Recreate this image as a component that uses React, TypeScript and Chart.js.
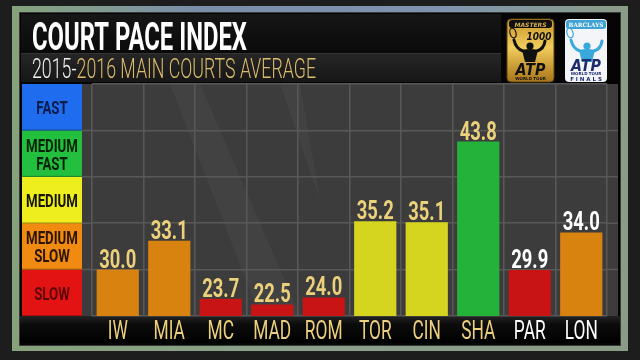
import React, { useEffect, useRef } from "react";
import { Chart, registerables, LinearScale } from "chart.js";

const categories = ["IW", "MIA", "MC", "MAD", "ROM", "TOR", "CIN", "SHA", "PAR", "LON"];
const paceValues = [30.0, 33.1, 23.7, 22.5, 24.0, 35.2, 35.1, 43.8, 29.9, 34.0];
const barColors = ["#d8820f", "#d8820f", "#c81414", "#c81414", "#c81414", "#d5d41e", "#d5d41e", "#25b23a", "#c81414", "#d8820f"];
const labelColors = ["#ecd07c", "#ecd07c", "#ecd07c", "#ecd07c", "#ecd07c", "#ecd07c", "#ecd07c", "#ecd07c", "#ffffff", "#ffffff"];
const bandBreaks = [20, 30, 35, 40, 45, 50];
const bandNames = [["SLOW"], ["MEDIUM", "SLOW"], ["MEDIUM"], ["MEDIUM", "FAST"], ["FAST"]];
const bandColors = ["#e31313", "#f08a10", "#eeee1e", "#22c03e", "#1f6cef"];
const bandTextColors = ["#5c0505", "#2a1400", "#151500", "#062206", "#0a1c4a"];
const titleText = "COURT PACE INDEX";
const subtitleYears = "2015-";
const subtitleRest = "2016 MAIN COURTS AVERAGE";

class PaceScale extends LinearScale {
  static id = "pace";
  static defaults = LinearScale.defaults;
  fracOf(v: number) {
    const b = bandBreaks;
    const n = b.length - 1;
    if (v <= b[0]) return 0;
    if (v >= b[n]) return 1;
    for (let i = 0; i < n; i++) {
      if (v <= b[i + 1]) return (i + (v - b[i]) / (b[i + 1] - b[i])) / n;
    }
    return 1;
  }
  getPixelForValue(v: any) {
    if (v === null || v === undefined || isNaN(v)) return NaN;
    return this.getPixelForDecimal(this.fracOf(+v));
  }
  getValueForPixel(p: number) {
    const b = bandBreaks;
    const n = b.length - 1;
    const d = Math.max(0, Math.min(1, this.getDecimalForPixel(p))) * n;
    const i = Math.min(Math.floor(d), n - 1);
    return b[i] + (d - i) * (b[i + 1] - b[i]);
  }
}

Chart.register(...registerables, PaceScale);

function fitText(ctx: CanvasRenderingContext2D, text: string, x: number, y: number, k: number, align: "left" | "center") {
  const w = ctx.measureText(text).width * k;
  ctx.save();
  ctx.translate(align === "center" ? x - w / 2 : x, y);
  ctx.scale(k, 1);
  ctx.textAlign = "left";
  ctx.fillText(text, 0, 0);
  ctx.restore();
  return w;
}

function rrect(ctx: CanvasRenderingContext2D, x: number, y: number, w: number, h: number, r: number) {
  ctx.beginPath();
  ctx.moveTo(x + r, y);
  ctx.lineTo(x + w - r, y);
  ctx.quadraticCurveTo(x + w, y, x + w, y + r);
  ctx.lineTo(x + w, y + h - r);
  ctx.quadraticCurveTo(x + w, y + h, x + w - r, y + h);
  ctx.lineTo(x + r, y + h);
  ctx.quadraticCurveTo(x, y + h, x, y + h - r);
  ctx.lineTo(x, y + r);
  ctx.quadraticCurveTo(x, y, x + r, y);
  ctx.closePath();
}

function silhouette(ctx: CanvasRenderingContext2D, cx: number, top: number, color: string) {
  ctx.save();
  ctx.fillStyle = color;
  ctx.strokeStyle = color;
  ctx.beginPath();
  ctx.arc(cx, top + 4, 3.6, 0, Math.PI * 2);
  ctx.fill();
  ctx.beginPath();
  ctx.moveTo(cx - 8, top + 8);
  ctx.quadraticCurveTo(cx, top + 6, cx + 8, top + 8);
  ctx.lineTo(cx + 5, top + 20);
  ctx.lineTo(cx - 5, top + 20);
  ctx.closePath();
  ctx.fill();
  ctx.lineWidth = 3;
  ctx.lineCap = "round";
  ctx.beginPath();
  ctx.moveTo(cx - 7, top + 9);
  ctx.quadraticCurveTo(cx - 14, top + 7, cx - 16, top - 2);
  ctx.moveTo(cx + 7, top + 9);
  ctx.quadraticCurveTo(cx + 14, top + 7, cx + 15, top - 1);
  ctx.stroke();
  ctx.lineWidth = 1.2;
  ctx.beginPath();
  ctx.ellipse(cx - 17, top - 9, 3, 5, -0.3, 0, Math.PI * 2);
  ctx.stroke();
  ctx.restore();
}

const backgroundPlugin = {
  id: "tvBackground",
  beforeDraw(chart: any) {
    const ctx: CanvasRenderingContext2D = chart.ctx;
    const y = chart.scales.y;
    const W = chart.width;
    const H = chart.height;
    ctx.save();
    // outer background
    ctx.fillStyle = "#1d1d1d";
    ctx.fillRect(0, 0, W, H);
    // frame
    const fg = ctx.createLinearGradient(12, 0, 628, 0);
    fg.addColorStop(0, "#86a27b");
    fg.addColorStop(0.5, "#8b9f8c");
    fg.addColorStop(1, "#8b9c86");
    ctx.fillStyle = fg;
    ctx.fillRect(12, 6, 616, 345);
    const tg = ctx.createLinearGradient(12, 0, 628, 0);
    tg.addColorStop(0, "rgba(120,150,200,0)");
    tg.addColorStop(0.3, "rgba(110,130,190,0.6)");
    tg.addColorStop(0.7, "rgba(120,140,200,0.6)");
    tg.addColorStop(1, "rgba(120,150,200,0)");
    ctx.fillStyle = tg;
    ctx.fillRect(12, 6, 616, 7);
    // inner black panel
    ctx.fillStyle = "#3a3a3a";
    ctx.fillRect(19, 12, 602, 334);
    ctx.fillStyle = "#050505";
    ctx.fillRect(20, 13, 600, 332);
    // title row
    const hg = ctx.createLinearGradient(0, 14, 0, 53);
    hg.addColorStop(0, "#161616");
    hg.addColorStop(1, "#0a0a0a");
    ctx.fillStyle = hg;
    ctx.fillRect(21, 14, 480, 39);
    ctx.fillStyle = "#333";
    ctx.fillRect(21, 53, 480, 1);
    const sg = ctx.createLinearGradient(0, 54, 0, 82);
    sg.addColorStop(0, "#262626");
    sg.addColorStop(1, "#161616");
    ctx.fillStyle = sg;
    ctx.fillRect(21, 54, 480, 28);
    // plot background
    ctx.fillStyle = "#3c3c3c";
    ctx.fillRect(22, 84, 596, 232);
    ctx.fillStyle = "rgba(255,255,255,0.035)";
    ctx.beginPath();
    ctx.moveTo(170, 84);
    ctx.lineTo(200, 84);
    ctx.lineTo(300, 316);
    ctx.lineTo(260, 316);
    ctx.closePath();
    ctx.fill();
    ctx.beginPath();
    ctx.moveTo(280, 84);
    ctx.lineTo(300, 84);
    ctx.lineTo(320, 200);
    ctx.closePath();
    ctx.fill();
    // grid extension into side margins
    ctx.strokeStyle = "#585858";
    ctx.lineWidth = 1.5;
    for (let i = 1; i < bandBreaks.length - 1; i++) {
      const py = y.getPixelForValue(bandBreaks[i]);
      ctx.beginPath();
      ctx.moveTo(82, py);
      ctx.lineTo(chart.chartArea.left, py);
      ctx.moveTo(chart.chartArea.right, py);
      ctx.lineTo(618, py);
      ctx.stroke();
    }
    // band boxes
    for (let i = 0; i < bandNames.length; i++) {
      const yb = y.getPixelForValue(bandBreaks[i]);
      const yt = y.getPixelForValue(bandBreaks[i + 1]);
      ctx.fillStyle = bandColors[i];
      ctx.fillRect(22, yt, 60, yb - yt);
      ctx.fillStyle = "rgba(0,0,0,0.25)";
      ctx.fillRect(22, yb - 1, 60, 1);
      ctx.font = "bold 19px Roboto";
      const k = 52 / ctx.measureText("MEDIUM").width;
      ctx.fillStyle = bandTextColors[i];
      ctx.textBaseline = "alphabetic";
      const lines = bandNames[i];
      const mid = (yt + yb) / 2;
      const gap = 18;
      lines.forEach((ln, j) => {
        const cy = mid + (j - (lines.length - 1) / 2) * gap;
        fitText(ctx, ln, 52, cy + 7, k, "center");
      });
    }
    // label strip
    const lg = ctx.createLinearGradient(0, 316, 0, 343);
    lg.addColorStop(0, "#242424");
    lg.addColorStop(0.3, "#0c0c0c");
    lg.addColorStop(1, "#000");
    ctx.fillStyle = lg;
    ctx.fillRect(20, 316, 600, 27);
    // title
    ctx.textBaseline = "alphabetic";
    ctx.fillStyle = "#ffffff";
    ctx.font = "bold 38px Roboto";
    fitText(ctx, titleText, 32, 50, 215 / ctx.measureText(titleText).width, "left");
    ctx.font = "300 27px Roboto";
    const ks = 284 / ctx.measureText(subtitleYears + subtitleRest).width;
    ctx.fillStyle = "#f2f2f2";
    const w1 = fitText(ctx, subtitleYears, 32, 78, ks, "left");
    ctx.fillStyle = "#dcbc6c";
    fitText(ctx, subtitleRest, 32 + w1, 78, ks, "left");
    // Masters 1000 logo
    const mg = ctx.createLinearGradient(0, 19, 0, 82);
    mg.addColorStop(0, "#c8962a");
    mg.addColorStop(0.45, "#f2cd5c");
    mg.addColorStop(1, "#a87418");
    rrect(ctx, 507, 19, 47, 63, 4);
    ctx.fillStyle = mg;
    ctx.fill();
    ctx.strokeStyle = "#5a4210";
    ctx.lineWidth = 1;
    ctx.stroke();
    rrect(ctx, 509, 20, 43, 8, 3);
    ctx.fillStyle = "#111";
    ctx.fill();
    ctx.fillStyle = "#d8b050";
    ctx.font = "bold italic 6px 'DejaVu Sans'";
    fitText(ctx, "MASTERS", 530.5, 26.5, 1, "center");
    ctx.fillStyle = "#111";
    ctx.font = "bold italic 10px 'DejaVu Sans'";
    fitText(ctx, "1000", 539, 40, 0.9, "center");
    silhouette(ctx, 530, 42, "#111");
    ctx.font = "bold italic 15px 'DejaVu Sans'";
    fitText(ctx, "ATP", 530.5, 75, 0.95, "center");
    ctx.font = "bold 4px 'DejaVu Sans'";
    fitText(ctx, "WORLD TOUR", 530.5, 80, 1, "center");
    // Barclays ATP Finals logo
    rrect(ctx, 565, 19, 42, 63, 4);
    ctx.fillStyle = "#f3f5f8";
    ctx.fill();
    rrect(ctx, 566, 20, 40, 9, 3);
    ctx.fillStyle = "#3ea2d4";
    ctx.fill();
    ctx.fillStyle = "#ffffff";
    ctx.font = "bold 6px 'DejaVu Serif'";
    fitText(ctx, "BARCLAYS", 586, 27, 0.95, "center");
    silhouette(ctx, 587, 42, "#39a9dc");
    ctx.fillStyle = "#1d2b6c";
    ctx.font = "bold italic 15px 'DejaVu Sans'";
    fitText(ctx, "ATP", 586, 71, 0.95, "center");
    ctx.font = "bold 4px 'DejaVu Sans'";
    fitText(ctx, "WORLD TOUR", 586, 75, 1, "center");
    ctx.font = "bold 5.5px 'DejaVu Sans'";
    fitText(ctx, "F I N A L S", 586, 80.5, 1, "center");
    ctx.restore();
  },
  afterDatasetsDraw(chart: any) {
    const ctx: CanvasRenderingContext2D = chart.ctx;
    const meta = chart.getDatasetMeta(0);
    const xs = chart.scales.x;
    ctx.save();
    ctx.textBaseline = "alphabetic";
    ctx.font = "bold 25px Roboto";
    const kv = 37 / ctx.measureText("30.0").width;
    meta.data.forEach((el: any, i: number) => {
      ctx.fillStyle = labelColors[i];
      fitText(ctx, paceValues[i].toFixed(1), el.x, el.y - 2, kv, "center");
    });
    ctx.font = "25px Roboto";
    const kx = 38 / ctx.measureText("MAD").width;
    categories.forEach((c, i) => {
      ctx.fillStyle = labelColors[i];
      fitText(ctx, c, xs.getPixelForValue(i), 339, kx, "center");
    });
    ctx.restore();
  },
};

export default function App() {
  const ref = useRef<HTMLCanvasElement | null>(null);
  useEffect(() => {
    if (!ref.current) return;
    const chart = new Chart(ref.current, {
      type: "bar",
      data: {
        labels: categories,
        datasets: [
          {
            data: paceValues,
            backgroundColor: barColors,
            borderWidth: 0,
            barPercentage: 0.82,
            categoryPercentage: 1,
          },
        ],
      },
      options: {
        animation: false,
        responsive: false,
        events: [],
        layout: { padding: { left: 92, right: 33, top: 84, bottom: 44 } },
        plugins: { legend: { display: false }, tooltip: { enabled: false }, title: { display: false } },
        scales: {
          x: {
            type: "category",
            offset: true,
            grid: { color: "#585858", lineWidth: 1.5, drawTicks: false, offset: true },
            border: { display: false },
            ticks: { display: false },
            afterFit: (s: any) => {
              s.height = 0;
            },
          },
          y: {
            type: "pace",
            min: 20,
            max: 50,
            grid: { color: "#585858", lineWidth: 1.5, drawTicks: false },
            border: { display: false },
            ticks: { display: false },
            afterBuildTicks: (s: any) => {
              s.ticks = bandBreaks.map((v) => ({ value: v }));
            },
            afterFit: (s: any) => {
              s.width = 0;
            },
          },
        } as any,
      },
      plugins: [backgroundPlugin],
    });
    return () => chart.destroy();
  }, []);
  return (
    <div style={{ position: "absolute", left: 0, top: 0, width: 640, height: 360, background: "#1d1d1d" }}>
      <canvas ref={ref} width={640} height={360} style={{ display: "block" }} />
    </div>
  );
}
